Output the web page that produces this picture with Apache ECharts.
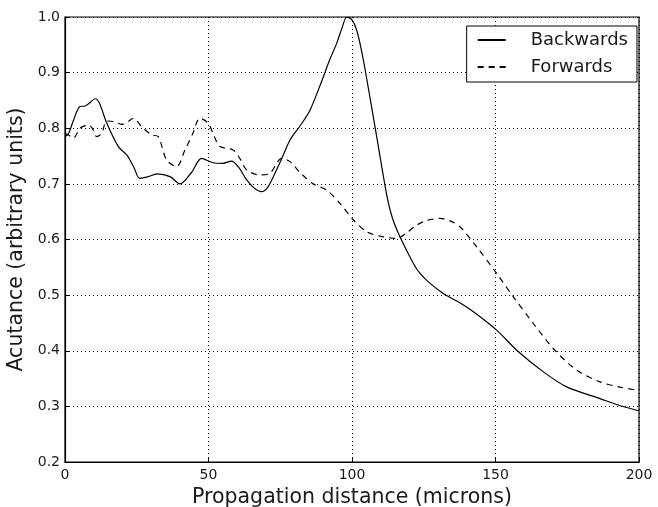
<!DOCTYPE html>
<html>
<head>
<meta charset="utf-8">
<script src="https://cdn.jsdelivr.net/npm/echarts@6/dist/echarts.min.js"></script>
<style>html,body{margin:0;padding:0;background:#fff}#c{width:658px;height:507px}</style>
</head>
<body>
<div id="c"></div>
<script>
const seriesNames = ["Backwards", "Forwards"];
const xTicks = [0, 50, 100, 150, 200];
const yTicks = [0.2, 0.3, 0.4, 0.5, 0.6, 0.7, 0.8, 0.9, 1.0];

const backX = [0, 1.2, 3, 5.2, 7, 8.5, 10.5, 12, 14.5, 18.6, 21.5, 24, 26, 29, 32, 36.6, 40, 44, 47.6, 51.6, 55, 58, 60.5, 63.3, 66, 68.5, 70.5, 72.6, 75.5, 78.4, 82, 85.4, 89.4, 92, 94.7, 96.5, 98.2, 100, 101.6, 103.3, 105, 108.6, 112, 114, 116.7, 121.4, 123.7, 127, 131.8, 137, 142.3, 150.4, 157.4, 166.7, 174.8, 186.4, 193, 199.2, 200];
const backY = [0.785, 0.79, 0.815, 0.839, 0.84, 0.845, 0.853, 0.845, 0.81, 0.767, 0.752, 0.73, 0.71, 0.713, 0.718, 0.713, 0.70, 0.72, 0.746, 0.738, 0.737, 0.741, 0.73, 0.707, 0.692, 0.686, 0.693, 0.713, 0.745, 0.779, 0.805, 0.833, 0.884, 0.92, 0.953, 0.98, 1.0, 0.995, 0.977, 0.94, 0.893, 0.785, 0.683, 0.64, 0.605, 0.557, 0.539, 0.522, 0.503, 0.488, 0.470, 0.437, 0.401, 0.362, 0.335, 0.314, 0.302, 0.293, 0.292];

const fwdX = [0, 1.2, 2.9, 5.2, 8.1, 9.5, 11, 12.8, 14.5, 17, 19.7, 22, 23.8, 26.7, 30.2, 32.5, 35.4, 38.9, 41.8, 44.5, 47, 49.9, 52, 54, 58.6, 61, 63.3, 68, 71.4, 75.5, 78.4, 82, 86.5, 91.1, 95.8, 100.5, 105.1, 109.8, 115.6, 119, 122.6, 126, 130.7, 134, 137.6, 143.4, 150.4, 156.2, 163.2, 170.1, 178.3, 186.4, 193, 199.2, 200];
const fwdY = [0.79, 0.788, 0.782, 0.80, 0.806, 0.80, 0.785, 0.791, 0.813, 0.812, 0.807, 0.812, 0.818, 0.803, 0.788, 0.785, 0.743, 0.731, 0.761, 0.79, 0.818, 0.809, 0.785, 0.767, 0.761, 0.745, 0.725, 0.716, 0.719, 0.746, 0.740, 0.72, 0.70, 0.689, 0.665, 0.635, 0.614, 0.606, 0.602, 0.612, 0.626, 0.634, 0.638, 0.634, 0.623, 0.587, 0.539, 0.497, 0.449, 0.404, 0.365, 0.344, 0.335, 0.329, 0.328];

const toPairs = (xs, ys) => xs.map((x, i) => [x, ys[i]]);

const chart = echarts.init(document.getElementById('c'), null, {renderer: 'canvas'});
const font = 'DejaVu Sans';
const txt = '#1a1a1a';
const gridLine = {show: true, lineStyle: {color: '#000', type: [1, 3], width: 1}};
chart.setOption({
  animation: false,
  backgroundColor: '#fff',
  textStyle: {fontFamily: font},
  grid: {left: 65, right: 19, top: 17, bottom: 45, show: true, borderColor: '#000', borderWidth: 1.2,
         backgroundColor: 'transparent', containLabel: false, outerBoundsMode: 'none'},
  legend: {
    right: 21, top: 26, orient: 'vertical',
    data: seriesNames,
    itemWidth: 28, itemHeight: 14, itemGap: 9,
    itemStyle: {color: 'rgba(0,0,0,0)', borderWidth: 0, opacity: 0},
    borderColor: '#000', borderWidth: 1, backgroundColor: '#fff', padding: [5, 9, 6, 10],
    textStyle: {fontFamily: font, fontSize: 18, color: txt, padding: [0, 0, 0, 20]},
    borderRadius: 0
  },
  xAxis: {
    type: 'value', min: 0, max: 200, interval: 50,
    axisLine: {show: true, onZero: false, lineStyle: {color: '#000', width: 1.2}},
    axisTick: {show: true, inside: true, length: 5, lineStyle: {color: '#000'}},
    axisLabel: {fontFamily: font, fontSize: 14, color: txt, margin: 6, formatter: v => xTicks.includes(v) ? String(v) : ''},
    splitLine: gridLine,
    name: 'Propagation distance (microns)', nameLocation: 'middle', nameGap: 23,
    nameTextStyle: {fontFamily: font, fontSize: 20.5, color: txt}
  },
  yAxis: {
    type: 'value', min: 0.2, max: 1.0, interval: 0.1,
    axisLine: {show: true, onZero: false, lineStyle: {color: '#000', width: 1.2}},
    axisTick: {show: true, inside: true, length: 5, lineStyle: {color: '#000'}},
    axisLabel: {fontFamily: font, fontSize: 14, color: txt, margin: 5, formatter: v => {
      const t = yTicks.find(y => Math.abs(y - v) < 1e-6); return t === undefined ? '' : t.toFixed(1); }},
    splitLine: gridLine,
    name: 'Acutance (arbitrary units)', nameLocation: 'middle', nameGap: 35,
    nameTextStyle: {fontFamily: font, fontSize: 20.5, color: txt}
  },
  series: [
    {name: seriesNames[0], type: 'line', data: toPairs(backX, backY), smooth: 0.3, showSymbol: false, symbol: 'none',
     lineStyle: {color: '#000', width: 1.2, type: 'solid'}, itemStyle: {color: '#000'}},
    {name: seriesNames[1], type: 'line', data: toPairs(fwdX, fwdY), smooth: 0.3, showSymbol: false, symbol: 'none',
     lineStyle: {color: '#000', width: 1.2, type: [6, 5]}, itemStyle: {color: '#000'}}
  ]
});
</script>
</body>
</html>
